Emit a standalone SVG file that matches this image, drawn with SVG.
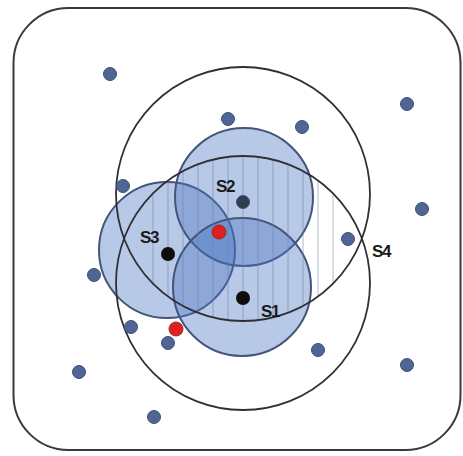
<svg xmlns="http://www.w3.org/2000/svg" width="463" height="456" viewBox="0 0 463 456">
<style>
.frame{fill:none;stroke:#3a3a3a;stroke-width:2}
.big{fill:none;stroke:#2f2f35;stroke-width:1.8}
.sens{fill:#4470bf;fill-opacity:0.38;stroke:#44547a;stroke-width:2}
.hatch{stroke:#6f82ab;stroke-width:1;stroke-opacity:0.55}
.node{fill:#4f6694;stroke:#3d5078;stroke-width:1}
.blk{fill:#0d0d0d}
.red{fill:#e0201c;stroke:#9a2a2a;stroke-width:1}
.lbl{font-family:"Liberation Sans",Arial,sans-serif;font-size:17px;font-weight:bold;fill:#1a1a1a;letter-spacing:-1.5px}
</style>
<defs>
<clipPath id="clipA"><circle cx="243" cy="194" r="127"/></clipPath>
<clipPath id="clipB"><circle cx="243" cy="283" r="127"/></clipPath>
</defs>
<rect class="frame" x="13.5" y="8" width="447" height="442" rx="55"/>
<g id="S3"><circle class="sens" cx="167" cy="250" r="68"/></g>
<g id="S2"><circle class="sens" cx="244" cy="197" r="69"/></g>
<g id="S1"><circle class="sens" cx="242" cy="287" r="69"/></g>
<g id="hatching" clip-path="url(#clipA)">
<g clip-path="url(#clipB)">
<line class="hatch" x1="153" y1="150" x2="153" y2="330"/>
<line class="hatch" x1="168" y1="150" x2="168" y2="330"/>
<line class="hatch" x1="183" y1="150" x2="183" y2="330"/>
<line class="hatch" x1="198" y1="150" x2="198" y2="330"/>
<line class="hatch" x1="213" y1="150" x2="213" y2="330"/>
<line class="hatch" x1="228" y1="150" x2="228" y2="330"/>
<line class="hatch" x1="243" y1="150" x2="243" y2="330"/>
<line class="hatch" x1="258" y1="150" x2="258" y2="330"/>
<line class="hatch" x1="273" y1="150" x2="273" y2="330"/>
<line class="hatch" x1="288" y1="150" x2="288" y2="330"/>
<line class="hatch" x1="303" y1="150" x2="303" y2="330"/>
<line class="hatch" x1="318" y1="150" x2="318" y2="330"/>
<line class="hatch" x1="333" y1="150" x2="333" y2="330"/>
</g>
</g>
<g id="S4">
<circle class="big" cx="243" cy="194" r="127"/>
<circle class="big" cx="243" cy="283" r="127"/>
</g>
<g id="nodes">
<circle class="node" cx="110" cy="74" r="6.5"/>
<circle class="node" cx="407" cy="104" r="6.5"/>
<circle class="node" cx="228" cy="119" r="6.5"/>
<circle class="node" cx="302" cy="127" r="6.5"/>
<circle class="node" cx="123" cy="186" r="6.5"/>
<circle class="node" cx="422" cy="209" r="6.5"/>
<circle class="node" cx="243" cy="202" r="6.5" style="fill:#2f3d4c"/>
<circle class="node" cx="348" cy="239" r="6.5"/>
<circle class="node" cx="94" cy="275" r="6.5"/>
<circle class="node" cx="131" cy="327" r="6.5"/>
<circle class="node" cx="168" cy="343" r="6.5"/>
<circle class="node" cx="318" cy="350" r="6.5"/>
<circle class="node" cx="407" cy="365" r="6.5"/>
<circle class="node" cx="79" cy="372" r="6.5"/>
<circle class="node" cx="154" cy="417" r="6.5"/>
<circle class="blk" cx="168" cy="254" r="7"/>
<circle class="blk" cx="243" cy="298" r="7"/>
<circle class="red" cx="219" cy="232" r="7"/>
<circle class="red" cx="176" cy="329" r="7"/>
</g>
<g id="labels">
<text class="lbl" x="225" y="192" text-anchor="middle">S2</text>
<text class="lbl" x="149" y="243" text-anchor="middle">S3</text>
<text class="lbl" x="270" y="317" text-anchor="middle">S1</text>
<text class="lbl" x="381" y="257" text-anchor="middle">S4</text>
</g>
</svg>
